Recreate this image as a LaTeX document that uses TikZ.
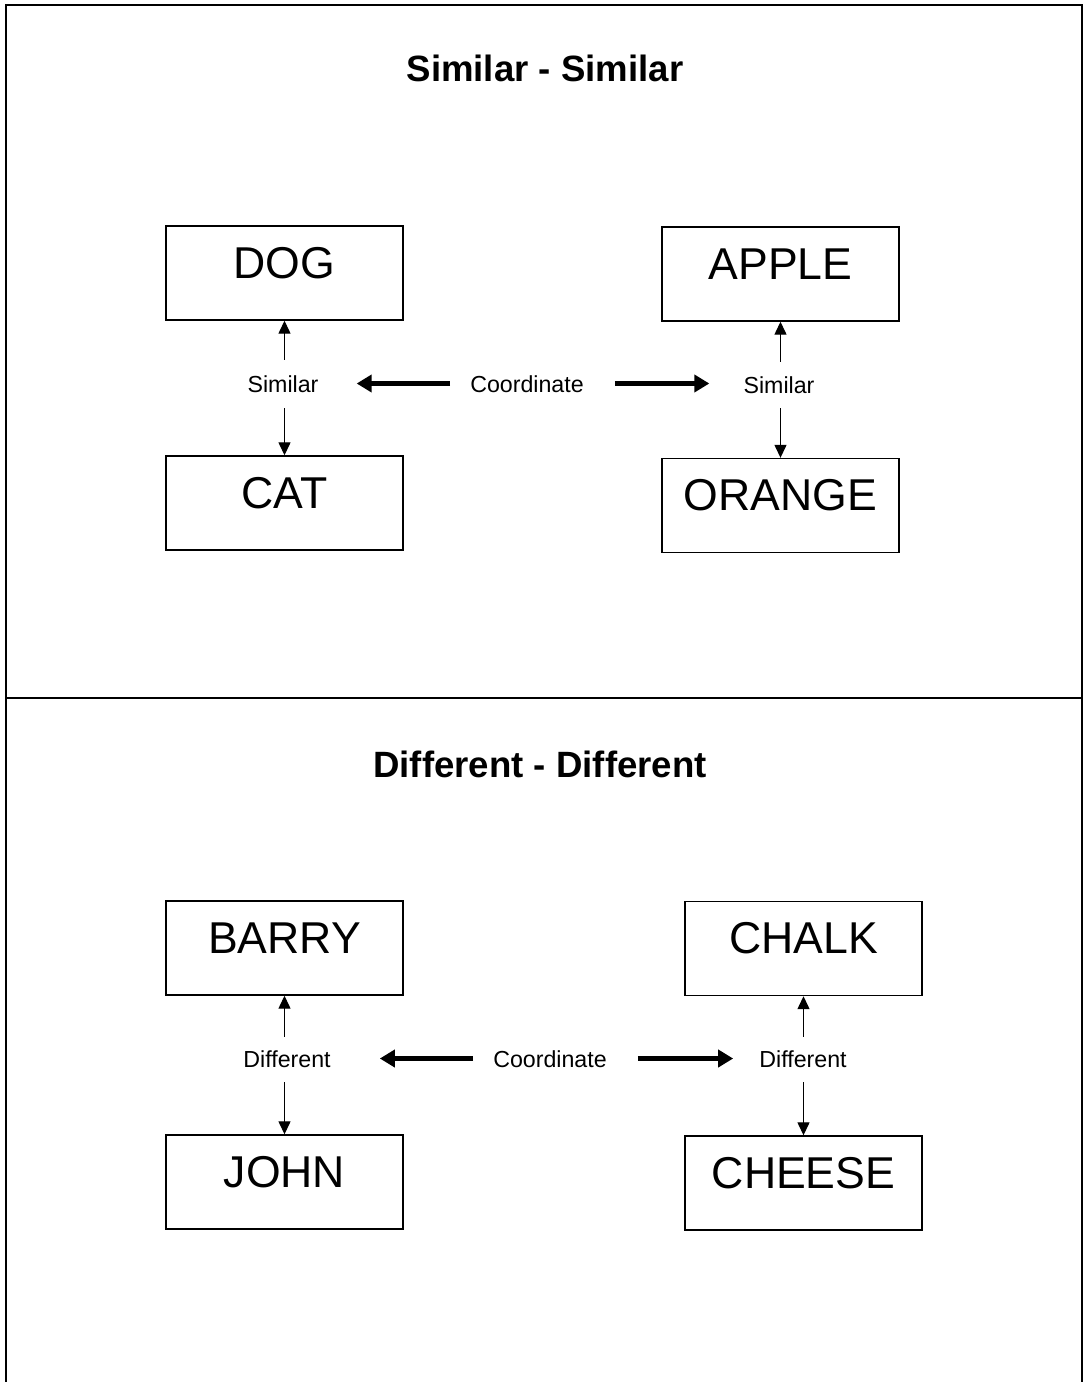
\documentclass[tikz,border=0pt]{standalone}
\usepackage{fontspec}
\setmainfont{Liberation Sans}
\usetikzlibrary{arrows.meta}
\begin{document}
\begin{tikzpicture}[x=1pt,y=-1pt,
  wordbox/.style={draw,line width=1.4pt,inner xsep=0pt,inner ysep=0pt,minimum width=237pt,
    text height=52pt,text depth=42pt,font=\fontsize{44.6}{44.6}\selectfont},
  relabel/.style={inner sep=0pt,text height=17pt,text depth=0pt,anchor=base,font=\fontsize{23.2}{23.2}\selectfont},
  titlelabel/.style={inner sep=0pt,anchor=base,font=\fontsize{36.6}{36.6}\selectfont\bfseries},
  thinarrow/.style={line width=1.3pt,-{Triangle[length=13pt,width=12pt]}},
  thickarrow/.style={line width=4.5pt,-{Triangle[length=15pt,width=17pt]}},
  frame/.style={line width=2pt}]
\useasboundingbox (0,0) rectangle (1085,1382);
% frame
\coordinate (fbl) at (6,1382);
\coordinate (ftl) at (6,5);
\coordinate (ftr) at (1082,5);
\coordinate (fbr) at (1082,1382);
\coordinate (ml) at (6,698);
\coordinate (mr) at (1082,698);
\draw[frame] (fbl) -- (ftl) -- (ftr) -- (fbr);
\draw[frame] (ml) -- (mr);
% top panel
\node[titlelabel] (t1) at (545,81) {Similar - Similar};
\node[wordbox] (dog) at (284.5,273) {DOG};
\node[wordbox] (cat) at (284.5,503) {CAT};
\node[wordbox] (apple) at (780.5,274) {APPLE};
\node[wordbox] (orange) at (780.5,505.5) {ORANGE};
\node[relabel] (s1) at (283,392) {Similar};
\node[relabel] (c1) at (527,392) {Coordinate};
\node[relabel] (s2) at (779,393) {Similar};
\draw[thinarrow,shorten <=15pt] (s1.north -| dog.south) -- (dog.south);
\draw[thinarrow,shorten <=16pt] (s1.south -| cat.north) -- (cat.north);
\draw[thinarrow,shorten <=14pt] (s2.north -| apple.south) -- (apple.south);
\draw[thinarrow,shorten <=15pt] (s2.south -| orange.north) -- (orange.north);
\draw[thickarrow,shorten <=20pt,shorten >=38pt] (c1.west) -- (s1.east |- c1.west);
\draw[thickarrow,shorten <=31pt,shorten >=34pt] (c1.east) -- (s2.west |- c1.east);
% bottom panel
\node[titlelabel] (t2) at (540,777) {Different - Different};
\node[wordbox] (barry) at (284.5,948) {BARRY};
\node[wordbox] (john) at (284.5,1182) {JOHN};
\node[wordbox] (chalk) at (803.5,948.5) {CHALK};
\node[wordbox] (cheese) at (803.5,1183) {CHEESE};
\node[relabel] (d1) at (287,1067) {Different};
\node[relabel] (c2) at (550,1067) {Coordinate};
\node[relabel] (d2) at (803,1067) {Different};
\draw[thinarrow,shorten <=13pt] (d1.north -| barry.south) -- (barry.south);
\draw[thinarrow,shorten <=15pt] (d1.south -| john.north) -- (john.north);
\draw[thinarrow,shorten <=13pt] (d2.north -| chalk.south) -- (chalk.south);
\draw[thinarrow,shorten <=15pt] (d2.south -| cheese.north) -- (cheese.north);
\draw[thickarrow,shorten <=20pt,shorten >=49pt] (c2.west) -- (d1.east |- c2.west);
\draw[thickarrow,shorten <=31pt,shorten >=26pt] (c2.east) -- (d2.west |- c2.east);
\end{tikzpicture}
\end{document}
